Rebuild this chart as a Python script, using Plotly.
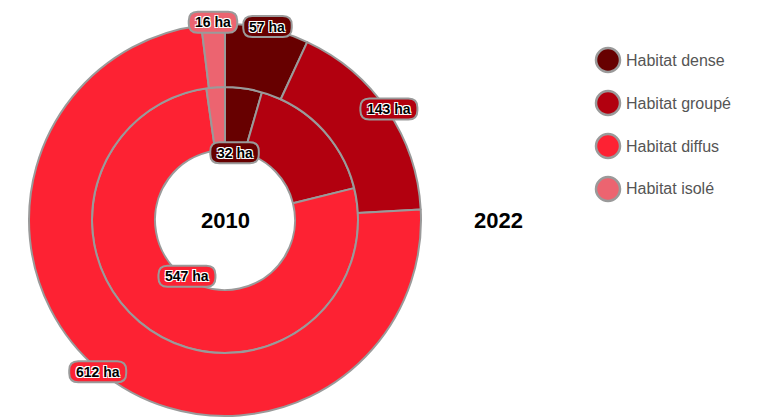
import math
import plotly.graph_objects as go

W, H = 769, 418
PAGE = 8  # body margin of the page around the figure

categories = ["Habitat dense", "Habitat groupé", "Habitat diffus", "Habitat isolé"]
colors = ["#670000", "#b2000f", "#fd2233", "#ec6470"]
values_2010 = [32, 119, 547, 16]
values_2022 = [57, 143, 612, 16]
# labels hidden in the original where they would overlap
shown_2010 = [True, False, True, False]
shown_2022 = [True, True, True, True]
unit = "ha"

# geometry in window pixels
cx, cy = 225, 220
r_outer, r_mid, r_hole = 196, 133, 70
border = "#9a9a9a"
font = "Liberation Sans, Arial, sans-serif"

FW, FH = W - PAGE, H - PAGE


def px_x(x):
    return (x - PAGE) / FW


def px_y(y):
    return 1 - (y - PAGE) / FH


def domain(r):
    return dict(x=[px_x(cx - r), px_x(cx + r)], y=[px_y(cy + r), px_y(cy - r)])


def mid_angles(values):
    total = sum(values)
    out, acc = [], 0
    for v in values:
        out.append((acc + v / 2) / total * 2 * math.pi)
        acc += v
    return out


def rounded_box(w, h, r):
    x0, x1, y0, y1 = -w / 2, w / 2, -h / 2, h / 2
    return (f"M{x0+r},{y0} L{x1-r},{y0} Q{x1},{y0} {x1},{y0+r} "
            f"L{x1},{y1-r} Q{x1},{y1} {x1-r},{y1} L{x0+r},{y1} "
            f"Q{x0},{y1} {x0},{y1-r} L{x0},{y0+r} Q{x0},{y0} {x0+r},{y0} Z")


fig = go.Figure()
for values, r, hole in [(values_2010, r_mid, r_hole / r_mid), (values_2022, r_outer, r_mid / r_outer)]:
    fig.add_trace(go.Pie(
        labels=categories, values=values, sort=False, direction="clockwise", rotation=0,
        domain=domain(r), hole=hole, textinfo="none", showlegend=False,
        marker=dict(colors=colors, line=dict(color=border, width=2)),
    ))

label_font = dict(family=font, size=14, color="black", weight="bold",
                  shadow="1px 1px 0 #fff, -1px -1px 0 #fff, 1px -1px 0 #fff, -1px 1px 0 #fff")

shapes, annotations = [], []
for values, shown, r in [(values_2010, shown_2010, 68), (values_2022, shown_2022, 198)]:
    for v, show, ang, col in zip(values, shown, mid_angles(values), colors):
        if not show:
            continue
        text = f"{v} {unit}"
        lx, ly = cx + r * math.sin(ang), cy - r * math.cos(ang)
        w = 8.5 * len(text) + 6
        shapes.append(dict(type="path", xref="paper", yref="paper", xsizemode="pixel", ysizemode="pixel",
                           xanchor=px_x(lx), yanchor=px_y(ly), path=rounded_box(w, 21, 9),
                           fillcolor=col, line=dict(color=border, width=2)))
        annotations.append(dict(x=px_x(lx), y=px_y(ly), xref="paper", yref="paper", text=text,
                                showarrow=False, font=label_font, xanchor="center", yanchor="middle"))

# year labels
for year, x in [("2010", cx), ("2022", 498)]:
    annotations.append(dict(x=px_x(x), y=px_y(cy), xref="paper", yref="paper", text=year, showarrow=False,
                            xanchor="center", yanchor="middle",
                            font=dict(family=font, size=22, color="black", weight="bold")))

# legend with round markers
for i, (name, col) in enumerate(zip(categories, colors)):
    y = 60 + 43 * i
    shapes.append(dict(type="circle", xref="paper", yref="paper", xsizemode="pixel", ysizemode="pixel",
                       xanchor=px_x(608), yanchor=px_y(y), x0=-12, x1=12, y0=-12, y1=12,
                       fillcolor=col, line=dict(color=border, width=2.5)))
    annotations.append(dict(x=px_x(624), y=px_y(y), xref="paper", yref="paper", text=name, showarrow=False,
                            xanchor="left", yanchor="middle", font=dict(family=font, size=16, color="#555555")))

fig.update_layout(
    width=FW, height=FH,
    margin=dict(l=0, r=0, t=0, b=0),
    paper_bgcolor="white", plot_bgcolor="white",
    shapes=shapes, annotations=annotations,
)
fig.write_html("out.html")
